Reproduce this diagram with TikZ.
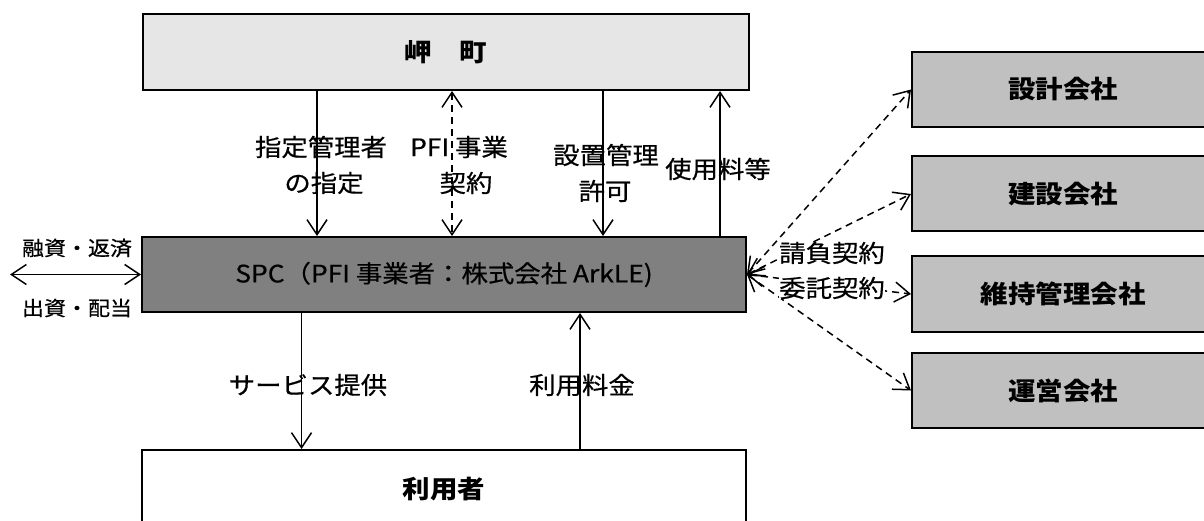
\documentclass[tikz,border=0pt]{standalone}
\usepackage{fontspec}
\setmainfont{Noto Sans CJK JP}[FakeStretch=1.1]
\newfontfamily\labfont{Noto Sans CJK JP}[FakeStretch=1.1,FakeBold=0.6]
\usetikzlibrary{arrows.meta}
\definecolor{towngray}{HTML}{E6E6E6}
\definecolor{spcgray}{HTML}{808080}
\definecolor{cogray}{HTML}{C0C0C0}
\begin{document}
\begin{tikzpicture}[x=1pt,y=-1pt,
  >={Straight Barb[length=15pt,width=20pt]},
  box/.style={draw=black, line width=2pt, inner sep=0pt, font=\bfseries\fontsize{25}{30}\selectfont},
  lab/.style={inner sep=1pt, font=\labfont\fontsize{24}{28}\selectfont},
  smalllab/.style={inner sep=1pt, font=\labfont\fontsize{20}{24}\selectfont},
  arr/.style={line width=1.5pt},
  dsh/.style={line width=1.5pt, dash pattern=on 7pt off 5pt},
]
\useasboundingbox (0,0) rectangle (1204,521);
% boxes
\node[box, fill=towngray, minimum width=606pt, minimum height=76pt] (town) at (446,52) {岬　町};
\node[box, fill=spcgray, minimum width=604pt, minimum height=75pt, font=\labfont\fontsize{24}{28}\selectfont] (spc) at (444,274.5) {SPC（PFI 事業者：株式会社 ArkLE)};
\node[box, fill=white, minimum width=604pt, minimum height=78pt] (user) at (444,489) {利用者};
\node[box, fill=cogray, minimum width=302pt, minimum height=75pt] (c1) at (1063,89.5) {設計会社};
\node[box, fill=cogray, minimum width=302pt, minimum height=75pt] (c2) at (1063,194) {建設会社};
\node[box, fill=cogray, minimum width=302pt, minimum height=75pt] (c3) at (1063,294) {維持管理会社};
\node[box, fill=cogray, minimum width=302pt, minimum height=75pt] (c4) at (1063,390.5) {運営会社};
% x positions of vertical connectors
\coordinate (xa) at (317,0);
\coordinate (xb) at (452,0);
\coordinate (xc) at (603,0);
\coordinate (xd) at (720,0);
\coordinate (xe) at (301.5,0);
\coordinate (xf) at (580,0);
\coordinate (lend) at (10,274.5);
% connectors
\draw[arr,->] (town.south -| xa) -- (spc.north -| xa);
\draw[dsh,<->] (town.south -| xb) -- (spc.north -| xb);
\draw[arr,->] (town.south -| xc) -- (spc.north -| xc);
\draw[arr,<-] (town.south -| xd) -- (spc.north -| xd);
\draw[arr,->] (spc.south -| xe) -- (user.north -| xe);
\draw[arr,<-] (spc.south -| xf) -- (user.north -| xf);
\draw[arr,<->] (lend) -- (spc.west);
\draw[dsh,<->] (spc.east) -- (c1.west);
\draw[dsh,<->] (spc.east) -- (c2.west);
\draw[dsh,<->] (spc.east) -- (c3.west);
\draw[dsh,<->] (spc.east) -- (c4.west);
% labels
\node[lab] (l1a) at (321,147) {指定管理者};
\node[lab] (l1b) at (324,183) {の指定};
\node[lab] (l2a) at (459,147) {PFI 事業};
\node[lab] (l2b) at (466,183) {契約};
\node[lab] (l3a) at (606,155) {設置管理};
\node[lab] (l3b) at (605,191) {許可};
\node[lab] (l4) at (718,169) {使用料等};
\node[lab] (l5) at (308,385) {サービス提供};
\node[lab] (l6) at (582,385) {利用料金};
\node[smalllab] (l7) at (77,248) {融資・返済};
\node[smalllab] (l8) at (77,308) {出資・配当};
\node[lab, fill=white, inner sep=0pt] (l9) at (832,253) {請負契約};
\node[lab, fill=white, inner sep=0pt] (l10) at (832,288) {委託契約};
\end{tikzpicture}
\end{document}
